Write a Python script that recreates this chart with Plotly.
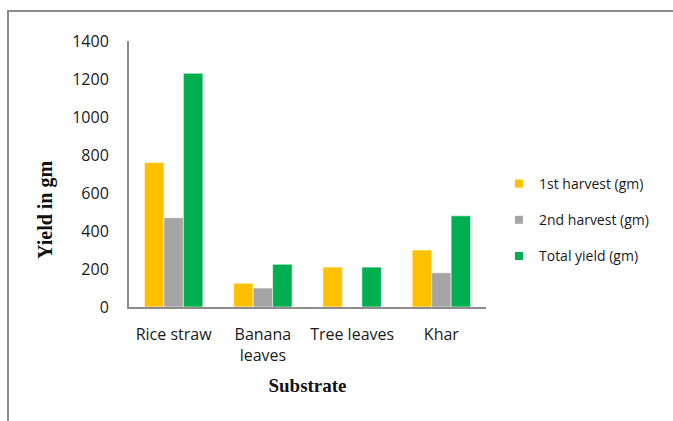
import plotly.graph_objects as go

# Mushroom yield per substrate
substrates = ["Rice straw", "Banana<br>leaves", "Tree leaves", "Khar"]
first_harvest = [760, 125, 210, 300]
second_harvest = [470, 100, 0, 180]
total_yield = [1230, 225, 210, 480]

series_names = ["1st harvest (gm)", "2nd harvest (gm)", "Total yield (gm)"]
series_values = [first_harvest, second_harvest, total_yield]
series_colors = ["#FFC000", "#A5A5A5", "#00B050"]

y_ticks = [0, 200, 400, 600, 800, 1000, 1200, 1400]

W, H = 673, 421
L, R, T, B = 129, 187, 41, 114
pw, ph = W - L - R, H - T - B

fig = go.Figure()
for name, vals, col in zip(series_names, series_values, series_colors):
    fig.add_trace(go.Bar(
        x=substrates, y=vals, name=name,
        marker=dict(color=col, line=dict(color="rgba(255,255,255,0.55)", width=1)),
        showlegend=False,
    ))
# small square legend keys
for i, (name, col) in enumerate(zip(series_names, series_colors)):
    fig.add_trace(go.Scatter(
        x=[None], y=[None], mode="markers", name=name,
        marker=dict(symbol="square", size=8, color=col),
        legendgroup=f"g{i}",
    ))

axis_font = dict(family="Open Sans", size=16, color="#1a1a1a")

fig.update_layout(
    width=W, height=H,
    margin=dict(l=L, r=R, t=T, b=B),
    paper_bgcolor="white", plot_bgcolor="white",
    barmode="group", bargap=0.345, bargroupgap=0,
    legend=dict(
        x=(499 - L) / pw, xanchor="left",
        y=(307 - 168) / ph, yanchor="top",
        font=dict(family="Open Sans", size=14, color="#1a1a1a"),
        tracegroupgap=15, itemwidth=30,
        bgcolor="rgba(0,0,0,0)",
    ),
    xaxis=dict(
        showgrid=False, showline=True, linecolor="#8c8c8c", linewidth=2,
        ticks="", tickfont=axis_font, ticklabelstandoff=12,
        title=dict(text="<b>Substrate</b>", standoff=14,
                   font=dict(family="Times New Roman, Liberation Serif, serif", size=19, color="#111")),
    ),
    yaxis=dict(
        range=[0, 1400], tickvals=y_ticks, showgrid=False, zeroline=False,
        showline=True, linecolor="#8c8c8c", linewidth=2,
        ticks="", tickfont=axis_font, ticklabelstandoff=15,
    ),
    annotations=[dict(
        text="<b>Yield in gm</b>", textangle=-90, showarrow=False,
        xref="paper", yref="paper",
        x=(45 - L) / pw, y=(307 - 210) / ph,
        xanchor="center", yanchor="middle",
        font=dict(family="Times New Roman, Liberation Serif, serif", size=20, color="#111"),
    )],
    shapes=[dict(
        type="rect", xref="paper", yref="paper", layer="below",
        x0=(8 - L) / pw, x1=(690 - L) / pw,
        y0=(307 - 440) / ph, y1=(307 - 11) / ph,
        line=dict(color="#8c8c8c", width=2), fillcolor="rgba(0,0,0,0)",
    )],
)

fig.write_html("out.html")
